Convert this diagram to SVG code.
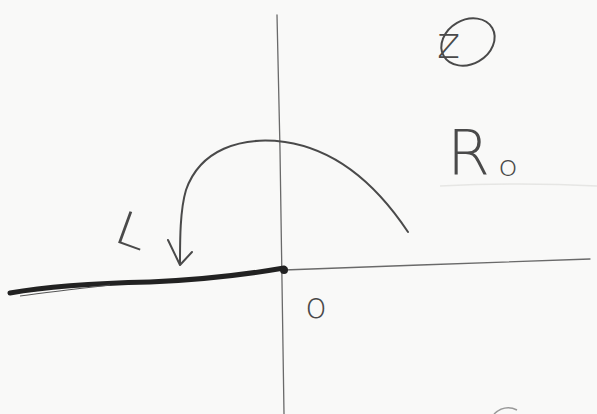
<svg xmlns="http://www.w3.org/2000/svg" width="597" height="414" viewBox="0 0 597 414">
<style>
.pen{fill:none;stroke:#4a4a4a;stroke-width:2;stroke-linecap:round;stroke-linejoin:round}
.thin{fill:none;stroke:#6a6a6a;stroke-width:1.3;stroke-linecap:round}
.hand{font-family:"DejaVu Sans",sans-serif;fill:#4a4a4a;font-weight:200}
</style>
<rect width="597" height="414" fill="#f9f9f8"/>
<path d="M440 186 Q520 182 597 186" fill="none" stroke="#e6e6e4" stroke-width="1.5"/>
<g id="axes">
<path class="thin" d="M277 15 L280 150 L284 414"/>
<path class="thin" d="M284 270 L420 265 L590 259"/>
</g>
<g id="branch-cut">
<path d="M10 293 Q60 284 150 282 Q220 279 284 268" fill="none" stroke="#222" stroke-width="5" stroke-linecap="round"/>
<path d="M20 296 Q50 292 110 285" fill="none" stroke="#555" stroke-width="1.2"/>
<circle cx="284" cy="270" r="4" fill="#222"/>
</g>
<g id="arc">
<path class="pen" d="M408 232 C380 190 340 150 285 142 C240 136 200 150 186 190 C180 210 180 240 180 263"/>
<path class="pen" d="M168 240 L180 265 L192 252"/>
</g>
<g id="labels">
<text class="hand" x="112" y="242" font-size="46" textLength="32" lengthAdjust="spacingAndGlyphs" transform="rotate(20 117 240)">L</text>
<text class="hand" x="447" y="175" font-size="62">R</text>
<text class="hand" x="498" y="176" font-size="28" textLength="20" lengthAdjust="spacingAndGlyphs">o</text>
<text class="hand" x="305" y="318" font-size="36">o</text>
<text class="hand" x="437" y="58" font-size="44">z</text>
<ellipse cx="468" cy="42" rx="28" ry="22" class="pen" transform="rotate(-30 468 42)"/>
<path d="M494 414 Q505 404 517 410" fill="none" stroke="#999" stroke-width="1.5"/>
</g>
</svg>
